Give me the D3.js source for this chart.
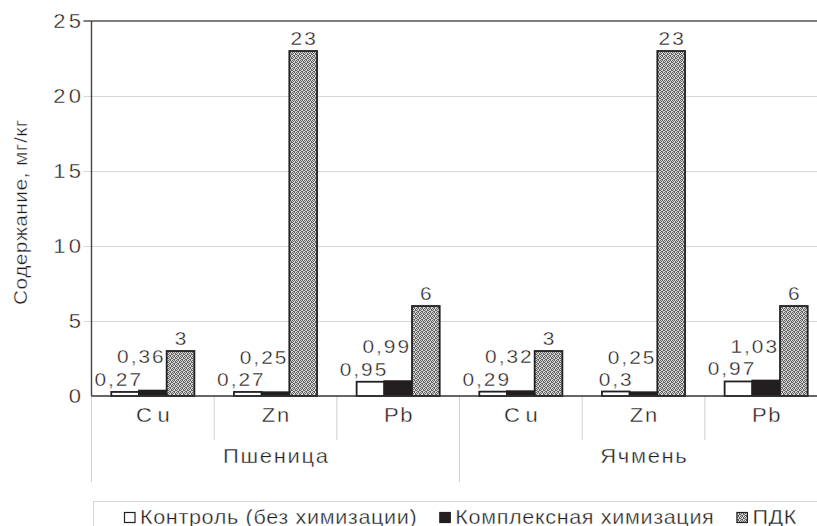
<!DOCTYPE html>
<html><head><meta charset="utf-8">
<script src="https://cdn.jsdelivr.net/npm/d3@7"></script>
<style>
html,body{margin:0;padding:0;background:#fff;}
svg{display:block;}
text{font-family:"Liberation Sans",Arial,Helvetica,sans-serif;fill:#1e1c1d;stroke:#fff;stroke-width:0.35px;paint-order:fill;}
</style></head>
<body>
<svg id="chart" width="817" height="526"></svg>
<script>
const groups = ["Пшеница", "Ячмень"];
const elements = ["Cu", "Zn", "Pb"];
const seriesNames = ["Контроль (без химизации)", "Комплексная химизация", "ПДК"];
const control = [0.27, 0.27, 0.95, 0.29, 0.3, 0.97];
const complex = [0.36, 0.25, 0.99, 0.32, 0.25, 1.03];
const pdk = [3, 23, 6, 3, 23, 6];
const yTicks = [0, 5, 10, 15, 20, 25];

(function () {
const series = [control, complex, pdk];
const svg = d3.select("#chart");
const SX = 1.1;
const ink = "#231f20";

const locale = d3.formatLocale({decimal: ",", thousands: " ", grouping: [3], currency: ["", ""]});
const fmt = locale.format("~g");

const pLeft = 91.5, pRight = 827.5, pTop = 21, base = 396;
const y = d3.scaleLinear().domain([0, 25]).range([base, pTop]);
const xG = d3.scaleBand().domain(groups).range([pLeft, pRight]).padding(0);
const xE = d3.scaleBand().domain(elements).range([0, xG.bandwidth()]).padding(0);
const xS = d3.scaleBand().domain([0, 1, 2]).range([0, xE.bandwidth()]).paddingInner(0).paddingOuter(0.715);

const defs = svg.append("defs");
const pat = defs.append("pattern").attr("id", "hatch").attr("patternUnits", "userSpaceOnUse")
  .attr("width", 4).attr("height", 4);
pat.append("rect").attr("width", 4).attr("height", 4).attr("fill", "#d8d8d8");
[[0,0],[2,0],[1,1],[3,2],[0,2],[1,3],[2,3],[3,1]].forEach(([px, py]) =>
  pat.append("rect").attr("x", px).attr("y", py).attr("width", 1).attr("height", 1)
    .attr("fill", "#606060").attr("shape-rendering", "crispEdges"));
const fills = ["#ffffff", ink, "url(#hatch)"];

function label(parent, x, yy, txt, anchor, size, ls, sx, rot) {
  const g = parent.append("g").attr("transform", `translate(${x},${yy})` + (rot ? ` rotate(${rot})` : "") + ` scale(${sx},1)`);
  const t = g.append("text").attr("text-anchor", anchor).attr("font-size", size)
    .attr("letter-spacing", ls).text(txt);
  if (anchor === "end") t.attr("dx", ls);
  else if (anchor === "middle") t.attr("dx", ls / 2);
  return g;
}

svg.append("g").selectAll("line").data(yTicks.filter(d => d > 0 && d < 25)).join("line")
  .attr("x1", pLeft - 8).attr("x2", 817).attr("y1", d => Math.round(y(d)) + 0.5).attr("y2", d => Math.round(y(d)) + 0.5)
  .attr("stroke", "#d6d6d6").attr("stroke-width", 1);
svg.append("line").attr("x1", pLeft - 8).attr("x2", 817).attr("y1", y(25)).attr("y2", y(25))
  .attr("stroke", "#555").attr("stroke-width", 1.4);
const yl = svg.append("g");
yTicks.forEach(t => label(yl, 81, y(t) + 7, String(t), "end", 20, 3, SX));

const slots = [];
groups.forEach((g, gi) => elements.forEach((e, ei) => slots.push({g, e, i: gi * 3 + ei, x: xG(g) + xE(e)})));
svg.append("g").selectAll("line").data(slots.filter(s => s.e !== "Cu")).join("line")
  .attr("x1", d => d.x).attr("x2", d => d.x).attr("y1", base).attr("y2", 440)
  .attr("stroke", "#d0d0d0").attr("stroke-width", 1);
svg.append("g").selectAll("line").data(groups).join("line")
  .attr("x1", d => xG(d) + xG.bandwidth()).attr("x2", d => xG(d) + xG.bandwidth())
  .attr("y1", base).attr("y2", 482).attr("stroke", "#d0d0d0").attr("stroke-width", 1);
svg.append("line").attr("x1", pLeft).attr("x2", pLeft).attr("y1", base).attr("y2", 482)
  .attr("stroke", "#d0d0d0").attr("stroke-width", 1);

const bars = svg.append("g");
slots.forEach(s => {
  series.forEach((arr, si) => {
    const v = arr[s.i];
    bars.append("rect")
      .attr("x", s.x + xS(si)).attr("y", y(v))
      .attr("width", xS.bandwidth()).attr("height", base - y(v))
      .attr("fill", fills[si]).attr("stroke", ink).attr("stroke-width", 1.8);
  });
});

svg.append("line").attr("x1", pLeft).attr("x2", 817).attr("y1", base).attr("y2", base)
  .attr("stroke", "#333").attr("stroke-width", 1.4);
svg.append("line").attr("x1", pLeft).attr("x2", pLeft).attr("y1", pTop).attr("y2", base)
  .attr("stroke", "#444").attr("stroke-width", 1.4);

const dl = svg.append("g");
slots.forEach(s => {
  series.forEach((arr, si) => {
    const v = arr[s.i];
    const bx = s.x + xS(si);
    const bw = xS.bandwidth();
    if (si === 0) label(dl, bx + bw + 2, y(v) - 6, fmt(v), "end", 19, 1.8, SX);
    else if (si === 1) label(dl, bx + bw - 3, y(v) - 28, fmt(v), "end", 19, 1.8, SX);
    else label(dl, bx + bw / 2, y(v) - 6, fmt(v), "middle", 19, 1.8, SX);
  });
});

const cl = svg.append("g");
slots.forEach(s => label(cl, s.x + xE.bandwidth() / 2, 421.5, s.e, "middle", 20, s.e === "Cu" ? 5 : 1.5, SX));
groups.forEach(g => label(cl, xG(g) + xG.bandwidth() / 2, 463, g, "middle", 20, 1.5, SX));

label(svg, 27, 305, "Содержание, мг/кг", "start", 19, 0.4, SX, -90);

svg.append("rect").attr("x", 93.5).attr("y", 501.5).attr("width", 760).attr("height", 60)
  .attr("fill", "none").attr("stroke", "#d6d6d6").attr("stroke-width", 1);
const lg = svg.append("g");
const LSX = 1.08;
let lx = 124;
seriesNames.forEach((n, si) => {
  lg.append("rect").attr("x", lx + 0.5).attr("y", 512.5).attr("width", 10.5).attr("height", 10)
    .attr("fill", fills[si]).attr("stroke", ink).attr("stroke-width", 1.2);
  const t = label(lg, lx + 16, 523.5, n, "start", 20, 0.6, LSX);
  const w = t.select("text").node().getComputedTextLength() * LSX;
  lx += 16 + w + 22;
});
})();
</script>
</body></html>
